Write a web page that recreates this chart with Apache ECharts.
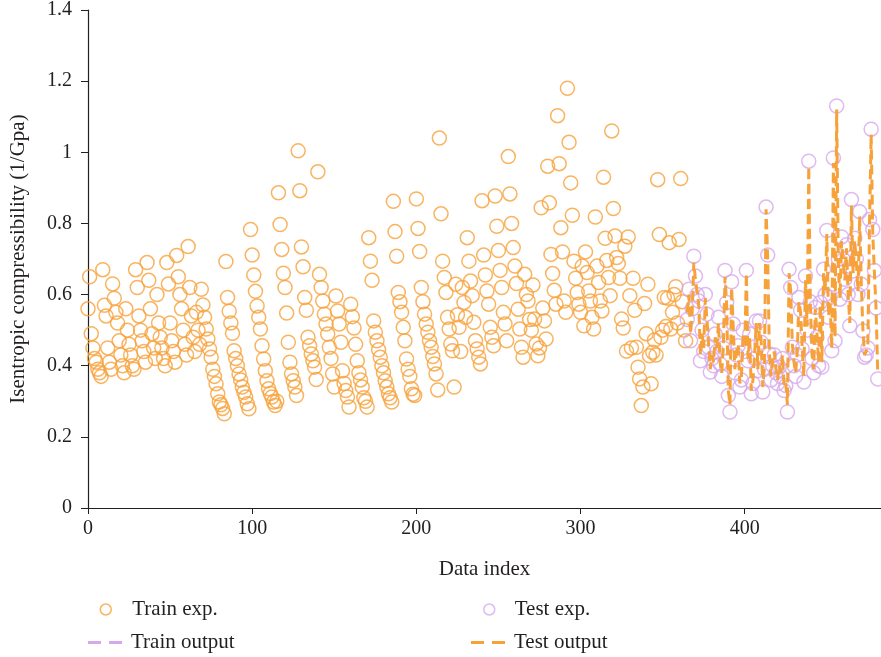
<!DOCTYPE html>
<html>
<head>
<meta charset="utf-8">
<title>Isentropic compressibility</title>
<script src="https://cdn.jsdelivr.net/npm/echarts@6/dist/echarts.min.js"></script>
<style>
  html, body { margin: 0; padding: 0; background: #fff; }
  #chart { width: 881px; height: 657px; }
</style>
</head>
<body>
<div id="chart"></div>
<script>
// 数据
var trainStart = 0;
var testStart = 365;

// Train exp. (index 0 - 364)
var trainExp = [
  0.56, 0.65, 0.49, 0.45, 0.42, 0.41, 0.39, 0.38, 0.37,
  0.67, 0.57, 0.54, 0.45, 0.41, 0.39,
  0.63, 0.59, 0.55, 0.52, 0.47, 0.43, 0.40, 0.38,
  0.56, 0.50, 0.46, 0.43, 0.40, 0.39,
  0.67, 0.62, 0.54, 0.50, 0.47, 0.44, 0.41,
  0.69, 0.64, 0.56, 0.49, 0.45, 0.42,
  0.60, 0.52, 0.48, 0.45, 0.42, 0.40,
  0.69, 0.63, 0.52, 0.47, 0.44, 0.41,
  0.71, 0.65, 0.60, 0.56, 0.50, 0.46, 0.43,
  0.735, 0.62, 0.54, 0.48, 0.44,
  0.55, 0.50, 0.46, 0.615, 0.571, 0.536, 0.503, 0.475, 0.447, 0.424, 0.39, 0.37, 0.349, 0.321, 0.298, 0.29, 0.28, 0.265,
  0.693, 0.592, 0.553, 0.52, 0.491, 0.442, 0.42, 0.40, 0.377, 0.36, 0.34, 0.325, 0.312, 0.293, 0.279,
  0.783, 0.711, 0.655, 0.609, 0.568, 0.536, 0.503, 0.456, 0.419, 0.386, 0.358, 0.335, 0.322, 0.312, 0.298, 0.288, 0.30,
  0.886, 0.797, 0.727, 0.66, 0.62, 0.548, 0.466, 0.41, 0.377, 0.358, 0.34, 0.316,
  1.004, 0.892, 0.734, 0.678, 0.592, 0.556, 0.48, 0.456, 0.433, 0.414, 0.396, 0.361,
  0.945, 0.657, 0.62, 0.582, 0.545, 0.517, 0.489, 0.452, 0.42, 0.377, 0.34,
  0.596, 0.554, 0.517, 0.466, 0.386, 0.35, 0.33, 0.312, 0.284,
  0.573, 0.538, 0.506, 0.46, 0.414, 0.38, 0.36, 0.34, 0.31, 0.30, 0.284,
  0.76, 0.694, 0.64, 0.526, 0.494, 0.47, 0.445, 0.424, 0.40, 0.38, 0.358, 0.34, 0.321, 0.31, 0.298,
  0.862, 0.777, 0.708, 0.606, 0.58, 0.55, 0.508, 0.47, 0.419, 0.39, 0.37, 0.335, 0.32, 0.316,
  0.869, 0.786, 0.721, 0.62, 0.58, 0.545, 0.517, 0.494, 0.47, 0.452, 0.426, 0.405, 0.377, 0.332,
  1.04, 0.827, 0.694, 0.648, 0.606, 0.536, 0.503, 0.461, 0.442, 0.34,
  0.629, 0.543, 0.508, 0.44, 0.62, 0.578, 0.536,
  0.76, 0.694, 0.638, 0.597, 0.522, 0.47, 0.447, 0.424, 0.405,
  0.864, 0.711, 0.655, 0.61, 0.573, 0.508, 0.48, 0.456,
  0.877, 0.792, 0.724, 0.668, 0.62, 0.55, 0.517, 0.47,
  0.988, 0.883, 0.80, 0.732, 0.68, 0.631, 0.559, 0.503, 0.452, 0.424,
  0.657, 0.60, 0.582, 0.53, 0.50, 0.627, 0.531, 0.461, 0.428, 0.45,
  0.844, 0.562, 0.526, 0.475, 0.961, 0.858, 0.713, 0.659, 0.612, 0.573,
  1.103, 0.968, 0.788, 0.72, 0.582, 0.55, 1.18, 1.028, 0.914, 0.823,
  0.694, 0.646, 0.606, 0.573, 0.55, 0.68, 0.512, 0.72, 0.662, 0.61,
  0.582, 0.536, 0.503, 0.818, 0.68, 0.634, 0.582, 0.554, 0.93, 0.758,
  0.696, 0.648, 0.597, 1.06, 0.842, 0.765, 0.704, 0.687, 0.646, 0.531,
  0.506, 0.736, 0.441, 0.762, 0.597, 0.45, 0.646, 0.556, 0.452, 0.396,
  0.363, 0.288, 0.34, 0.575, 0.49, 0.629, 0.428, 0.349, 0.438, 0.472,
  0.43, 0.923, 0.769, 0.48, 0.50, 0.592, 0.51, 0.59, 0.746, 0.503,
  0.55, 0.60, 0.622, 0.52, 0.755, 0.926, 0.58, 0.50, 0.47
];

// Test exp. (index 365 - 481)
var testExp = [
  0.53, 0.615, 0.47, 0.56, 0.708, 0.652, 0.60, 0.582, 0.414, 0.50,
  0.44, 0.60, 0.545, 0.452, 0.382, 0.42, 0.40, 0.489, 0.44, 0.536,
  0.405, 0.37, 0.45, 0.668, 0.578, 0.316, 0.27, 0.636, 0.517, 0.38,
  0.43, 0.456, 0.34, 0.36, 0.50, 0.44, 0.668, 0.414, 0.489, 0.321,
  0.35, 0.42, 0.526, 0.386, 0.526, 0.466, 0.326, 0.39, 0.846, 0.711,
  0.433, 0.36, 0.40, 0.43, 0.38, 0.35, 0.396, 0.37, 0.42, 0.33,
  0.344, 0.27, 0.671, 0.62, 0.452, 0.40, 0.37, 0.43, 0.592, 0.556,
  0.447, 0.354, 0.652, 0.50, 0.975, 0.58, 0.42, 0.38, 0.564, 0.48,
  0.40, 0.578, 0.396, 0.671, 0.60, 0.78, 0.536, 0.592, 0.442, 0.984,
  0.47, 1.13, 0.70, 0.587, 0.762, 0.699, 0.643, 0.74, 0.60, 0.512,
  0.867, 0.666, 0.758, 0.70, 0.60, 0.833, 0.629, 0.498, 0.424, 0.43,
  0.45, 0.811, 1.065, 0.783, 0.668, 0.562, 0.363
];

// Test output (index 365 - 481)
var testOut = [
  0.55, 0.60, 0.49, 0.55, 0.69, 0.64, 0.61, 0.57, 0.43, 0.49,
  0.45, 0.59, 0.53, 0.46, 0.39, 0.43, 0.41, 0.48, 0.45, 0.52,
  0.41, 0.38, 0.46, 0.65, 0.57, 0.33, 0.29, 0.62, 0.51, 0.39,
  0.44, 0.46, 0.35, 0.37, 0.49, 0.45, 0.66, 0.42, 0.48, 0.33,
  0.36, 0.43, 0.52, 0.39, 0.52, 0.47, 0.34, 0.40, 0.84, 0.70,
  0.44, 0.37, 0.41, 0.44, 0.39, 0.36, 0.40, 0.38, 0.43, 0.34,
  0.35, 0.29, 0.66, 0.61, 0.46, 0.41, 0.38, 0.44, 0.58, 0.55,
  0.45, 0.37, 0.64, 0.51, 0.96, 0.57, 0.43, 0.39, 0.56, 0.49,
  0.41, 0.57, 0.41, 0.66, 0.61, 0.77, 0.54, 0.58, 0.45, 0.97,
  0.48, 1.12, 0.69, 0.59, 0.75, 0.69, 0.64, 0.73, 0.60, 0.52,
  0.85, 0.66, 0.75, 0.69, 0.61, 0.82, 0.63, 0.50, 0.43, 0.44,
  0.46, 0.80, 1.05, 0.77, 0.66, 0.56, 0.38
];

// Train output: not visible in the picture, legend only
var trainOut = [];

var xTicks = [0, 100, 200, 300, 400];

var orange = '#f7a13a';
var purple = '#d6a9ee';
var fontFam = '"Liberation Serif", "DejaVu Serif", serif';
var dashIcon = 'path://M0,0h13v3h-13z M21,0h13v3h-13z';

function toPairs(arr, start) {
    return arr.map(function (v, k) { return [start + k, v]; });
}

function legendText(padLeft) {
    return { fontFamily: fontFam, fontSize: 21, color: '#231f20', padding: [0, 0, 0, padLeft] };
}

var myChart = echarts.init(document.getElementById('chart'));

myChart.setOption({
    animation: false,
    grid: { left: 88, right: 0, top: 8, bottom: 149 },
    legend: [
        { data: ['Train exp.'], icon: 'circle', left: 99.5, top: 599, padding: 0, itemWidth: 11, itemHeight: 11,
          itemStyle: { color: 'rgba(255,255,255,0)', borderColor: orange, borderWidth: 1.5 },
          textStyle: legendText(16) },
        { data: ['Test exp.'], icon: 'circle', left: 483, top: 599, padding: 0, itemWidth: 11, itemHeight: 11,
          itemStyle: { color: 'rgba(255,255,255,0)', borderColor: purple, borderWidth: 1.5 },
          textStyle: legendText(15) },
        { data: ['Train output'], icon: dashIcon, left: 88, top: 632, padding: 0, itemWidth: 34, itemHeight: 3,
          itemStyle: { color: purple, borderWidth: 0 }, lineStyle: { width: 0, opacity: 0 },
          textStyle: legendText(4) },
        { data: ['Test output'], icon: dashIcon, left: 471, top: 632, padding: 0, itemWidth: 34, itemHeight: 3,
          itemStyle: { color: orange, borderWidth: 0 }, lineStyle: { width: 0, opacity: 0 },
          textStyle: legendText(4) }
    ],
    xAxis: {
        type: 'value',
        min: 0,
        max: 483,
        interval: 100,
        name: 'Data index',
        nameLocation: 'middle',
        nameGap: 51,
        nameTextStyle: { fontFamily: fontFam, fontSize: 21, color: '#231f20' },
        axisLine: { lineStyle: { color: '#231f20', width: 1.2 } },
        axisTick: { show: true, length: 6, customValues: xTicks, lineStyle: { color: '#231f20' } },
        axisLabel: { customValues: xTicks, fontFamily: fontFam, fontSize: 20, color: '#231f20', margin: 11 },
        splitLine: { show: false }
    },
    yAxis: {
        type: 'value',
        min: 0,
        max: 1.4,
        interval: 0.2,
        name: 'Isentropic compressibility (1/Gpa)',
        nameLocation: 'middle',
        nameGap: 59,
        nameTextStyle: { fontFamily: fontFam, fontSize: 21, color: '#231f20' },
        axisLine: { show: true, lineStyle: { color: '#231f20', width: 1.2 } },
        axisTick: { show: true, length: 7, lineStyle: { color: '#231f20' } },
        axisLabel: { fontFamily: fontFam, fontSize: 20, color: '#231f20', margin: 16 },
        splitLine: { show: false }
    },
    series: [
        {
            name: 'Train exp.',
            type: 'scatter',
            symbol: 'circle',
            symbolSize: 14,
            itemStyle: { color: 'rgba(255,255,255,0)', borderColor: orange, borderWidth: 1.5 },
            data: toPairs(trainExp, trainStart)
        },
        {
            name: 'Test exp.',
            type: 'scatter',
            symbol: 'circle',
            symbolSize: 14,
            itemStyle: { color: 'rgba(255,255,255,0)', borderColor: purple, borderWidth: 1.5 },
            data: toPairs(testExp, testStart)
        },
        {
            name: 'Train output',
            type: 'line',
            symbol: 'none',
            itemStyle: { color: purple },
            lineStyle: { color: purple, width: 3, type: [10, 5] },
            data: toPairs(trainOut, trainStart)
        },
        {
            name: 'Test output',
            type: 'line',
            symbol: 'none',
            itemStyle: { color: orange },
            lineStyle: { color: orange, width: 3, type: [10, 5] },
            data: toPairs(testOut, testStart)
        }
    ]
});
</script>
</body>
</html>
